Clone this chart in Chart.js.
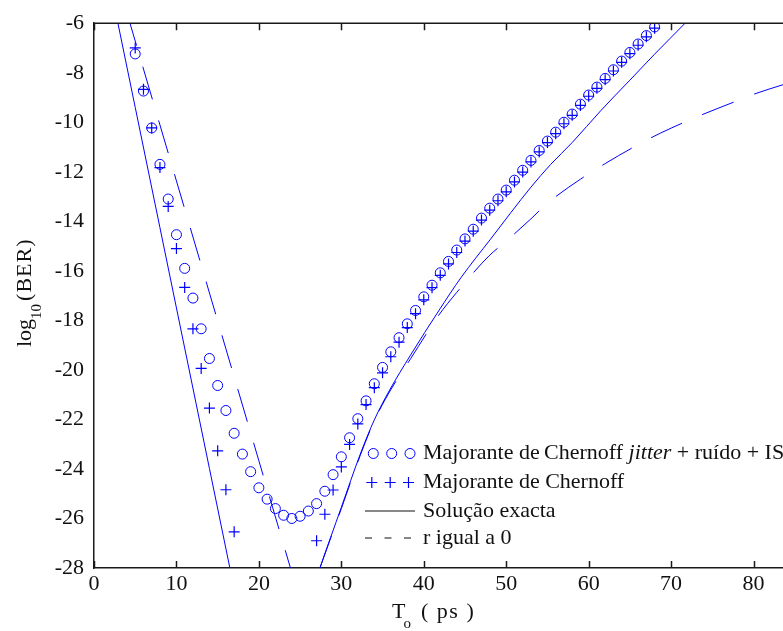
<!DOCTYPE html>
<html>
<head>
<meta charset="utf-8">
<script src="https://cdn.jsdelivr.net/npm/chart.js@4.4.0/dist/chart.umd.min.js"></script>
<style>
html, body { margin: 0; padding: 0; background: #fff; overflow: hidden; }
canvas { display: block; }
</style>
</head>
<body>
<canvas id="berChart" width="860" height="631"></canvas>
<script>
// Axis ticks
const xTicks = [0, 10, 20, 30, 40, 50, 60, 70, 80, 90];
const yTicks = [-28, -26, -24, -22, -20, -18, -16, -14, -12, -10, -8, -6];

// Chernoff bound, jitter + noise + ISI (circles)
const jitterX = [5, 6, 7, 8, 9, 10, 11, 12, 13, 14, 15, 16, 17, 18, 19, 20, 21, 22, 23, 24,
  25, 26, 27, 28, 29, 30, 31, 32, 33, 34, 35, 36, 37, 38, 39, 40, 41, 42, 43, 44,
  45, 46, 47, 48, 49, 50, 51, 52, 53, 54, 55, 56, 57, 58, 59, 60, 61, 62, 63, 64,
  65, 66, 67, 68];
const jitterY = [-7.24, -8.74, -10.23, -11.70, -13.10, -14.54, -15.90, -17.10, -18.34, -19.54,
  -20.63, -21.64, -22.56, -23.40, -24.11, -24.76, -25.22, -25.60, -25.87, -26.00,
  -25.91, -25.70, -25.40, -24.90, -24.23, -23.51, -22.74, -21.97, -21.25, -20.56,
  -19.90, -19.27, -18.70, -18.14, -17.60, -17.05, -16.58, -16.08, -15.62, -15.16,
  -14.71, -14.32, -13.87, -13.47, -13.10, -12.74, -12.34, -11.94, -11.54, -11.14,
  -10.76, -10.40, -10.00, -9.67, -9.27, -8.90, -8.58, -8.23, -7.88, -7.53,
  -7.18, -6.84, -6.50, -6.15];

// Chernoff bound (plus signs)
const chernoffX = [5, 6, 7, 8, 9, 10, 11, 12, 13, 14, 15, 16, 17,
  27, 28, 29, 30, 31, 32, 33, 34, 35, 36, 37, 38, 39, 40, 41, 42, 43, 44,
  45, 46, 47, 48, 49, 50, 51, 52, 53, 54, 55, 56, 57, 58, 59, 60, 61, 62, 63, 64,
  65, 66, 67, 68];
const chernoffY = [-7.00, -8.67, -10.23, -11.83, -13.40, -15.10, -16.67, -18.34, -19.94, -21.54,
  -23.27, -24.84, -26.54,
  -26.90, -25.83, -24.85, -23.92, -23.01, -22.18, -21.40, -20.72, -20.12, -19.47,
  -18.88, -18.29, -17.73, -17.17, -16.68, -16.18, -15.72, -15.26,
  -14.80, -14.40, -13.95, -13.55, -13.17, -12.81, -12.41, -12.01, -11.60, -11.20,
  -10.82, -10.46, -10.06, -9.72, -9.32, -8.95, -8.63, -8.28, -7.93, -7.58,
  -7.23, -6.89, -6.55, -6.20];

// Exact solution (solid), gap where it dips below the axis
const exactX = [2.5, 5, 8, 11, 14, 17, 22, 27, 27.4, 30, 32.3, 34, 35.8, 38.4, 41.8, 44.5,
  48.1, 53, 55.4, 58, 61.5, 65, 68, 71.7, 73];
const exactY = [-5.35, -9.40, -14.26, -19.12, -23.98, -28.84, null, -28.40, -28.00, -25.55,
  -23.40, -22.02, -20.85, -19.40, -17.62, -16.28, -14.72, -12.62, -11.70, -10.82,
  -9.52, -8.30, -7.25, -6.00, -5.55];

// r = 0 (dashed)
const rZeroX = [4, 10, 16, 20, 24.2, 26, 27.4, 30, 32.3, 34, 36, 38.4, 41.8, 44, 47.9, 50,
  53, 55, 59, 62, 65.8, 68.7, 73, 77.8, 80, 83.7, 90];
const rZeroY = [-5.59, -12.37, -19.15, -23.67, -28.42, null, -28.00, -25.60, -23.45, -22.05,
  -20.80, -19.55, -17.80, -16.87, -15.40, -14.80, -13.90, -13.27, -12.30, -11.67,
  -10.94, -10.44, -9.80, -9.16, -8.87, -8.47, -7.80];

const BLUE = '#0000ff';
const INK = '#111';
const AXIS = '#1a1a1a';
const SERIF = '"Liberation Serif", "Times New Roman", serif';

function toPoints(xs, ys) {
    return xs.map((x, i) => ({ x: x, y: ys[i] }));
}

// Draw text pieces one after another, returns the end x
function textRun(ctx, parts, x, y) {
    parts.forEach(([str, font]) => {
        ctx.font = font;
        ctx.fillText(str, x, y);
        x += ctx.measureText(str).width;
    });
    return x;
}

// Legend with mixed italic text, drawn straight onto the canvas
function drawLegend(ctx) {
    const rows = [453.5, 482.5, 511, 538];
    const marks = [373.3, 391.7, 410];
    const textX = 423;
    const roman = '22px ' + SERIF;
    const italic = 'italic 22px ' + SERIF;

    ctx.lineWidth = 1;
    ctx.strokeStyle = BLUE;
    marks.forEach(cx => {
        ctx.beginPath();
        ctx.arc(cx, rows[0], 5, 0, Math.PI * 2);
        ctx.stroke();
    });
    ctx.lineWidth = 1.2;
    ctx.beginPath();
    marks.forEach(cx => {
        ctx.moveTo(cx - 1.5 - 5.5, rows[1]); ctx.lineTo(cx - 1.5 + 5.5, rows[1]);
        ctx.moveTo(cx - 1.5, rows[1] - 5.5); ctx.lineTo(cx - 1.5, rows[1] + 5.5);
    });
    ctx.stroke();

    ctx.strokeStyle = INK;
    ctx.lineWidth = 1;
    ctx.beginPath();
    ctx.moveTo(365, rows[2]); ctx.lineTo(415, rows[2]);
    ctx.stroke();
    ctx.setLineDash([7, 12.5]);
    ctx.beginPath();
    ctx.moveTo(365, rows[3]); ctx.lineTo(415, rows[3]);
    ctx.stroke();
    ctx.setLineDash([]);

    ctx.fillStyle = INK;
    ctx.textAlign = 'left';
    ctx.textBaseline = 'middle';

    textRun(ctx, [
        ['Majorante de', roman],
        ['\u2009Chernoff ', roman],
        ['jitter', italic],
        [' + ruído + ISI', roman]
    ], textX, rows[0]);

    ctx.font = roman;
    ctx.fillText('Majorante de Chernoff', textX, rows[1]);
    ctx.fillText('Solução exacta', textX, rows[2]);
    ctx.fillText('r igual a 0', textX, rows[3]);
}

// Axis titles with subscripts
function drawTitles(ctx) {
    ctx.fillStyle = INK;
    ctx.textAlign = 'left';
    ctx.textBaseline = 'alphabetic';

    // T_o ( ps )
    ctx.font = '22px ' + SERIF;
    ctx.fillText('T', 392, 618);
    let x = 392 + ctx.measureText('T').width - 2;
    ctx.font = '15px ' + SERIF;
    ctx.fillText('o', x, 628);
    ctx.font = '22px ' + SERIF;
    ctx.letterSpacing = '1.5px';
    ctx.fillText('( ps )', 421, 618);
    ctx.letterSpacing = '0px';

    // log_10(BER), reading upwards
    ctx.save();
    ctx.translate(31, 347);
    ctx.rotate(-Math.PI / 2);
    ctx.font = '22px ' + SERIF;
    ctx.fillText('log', 0, 0);
    x = ctx.measureText('log').width;
    ctx.font = '15px ' + SERIF;
    ctx.fillText('10', x, 10);
    x += ctx.measureText('10').width + 3;
    ctx.font = '22px ' + SERIF;
    ctx.letterSpacing = '1px';
    ctx.fillText('(BER)', x, 0);
    ctx.letterSpacing = '0px';
    ctx.restore();
}

// Top frame, inward ticks, legend and titles
const framePlugin = {
    id: 'framePlugin',
    afterDraw(chart) {
        const { ctx, chartArea: a } = chart;
        const xs = chart.scales.x;
        ctx.save();
        ctx.strokeStyle = AXIS;
        ctx.lineWidth = 1.5;
        ctx.beginPath();
        ctx.moveTo(a.left, a.top);
        ctx.lineTo(a.right, a.top);
        xTicks.forEach(v => {
            const px = Math.round(xs.getPixelForValue(v)) + 0.5;
            ctx.moveTo(px, a.bottom);
            ctx.lineTo(px, a.bottom - 7);
            ctx.moveTo(px, a.top);
            ctx.lineTo(px, a.top + 7);
        });
        ctx.stroke();
        drawLegend(ctx);
        drawTitles(ctx);
        ctx.restore();
    }
};

const tickFont = { family: SERIF, size: 22 };

new Chart(document.getElementById('berChart').getContext('2d'), {
    type: 'line',
    data: {
        datasets: [{
            label: 'Majorante de Chernoff jitter + ruído + ISI',
            data: toPoints(jitterX, jitterY),
            showLine: false,
            pointStyle: 'circle',
            pointRadius: 5,
            pointBorderWidth: 1,
            pointBorderColor: BLUE,
            pointBackgroundColor: 'rgba(0,0,0,0)',
            borderColor: BLUE
        }, {
            label: 'Majorante de Chernoff',
            data: toPoints(chernoffX, chernoffY),
            showLine: false,
            pointStyle: 'cross',
            pointRadius: 5.5,
            pointBorderWidth: 1.2,
            pointBorderColor: BLUE,
            borderColor: BLUE
        }, {
            label: 'Solução exacta',
            data: toPoints(exactX, exactY),
            borderColor: BLUE,
            borderWidth: 1,
            pointRadius: 0,
            cubicInterpolationMode: 'monotone',
            fill: false
        }, {
            label: 'r igual a 0',
            data: toPoints(rZeroX, rZeroY),
            borderColor: BLUE,
            borderWidth: 1,
            borderDash: [34, 22],
            pointRadius: 0,
            cubicInterpolationMode: 'monotone',
            fill: false
        }]
    },
    options: {
        responsive: false,
        animation: false,
        devicePixelRatio: 1,
        layout: { padding: { top: 18, right: 24, left: 0, bottom: 0 } },
        plugins: {
            legend: { display: false },
            tooltip: { enabled: false }
        },
        scales: {
            x: {
                type: 'linear',
                min: 0,
                max: 90,
                afterBuildTicks: s => { s.ticks = xTicks.map(v => ({ value: v })); },
                afterFit: s => { s.height = 63; },
                ticks: { font: tickFont, color: INK, padding: 3, maxRotation: 0, autoSkip: false },
                grid: { display: false, drawTicks: false },
                border: { display: true, color: AXIS, width: 1.5 }
            },
            y: {
                type: 'linear',
                min: -28,
                max: -6,
                afterBuildTicks: s => { s.ticks = yTicks.map(v => ({ value: v })); },
                afterFit: s => { s.width = 94; },
                ticks: { font: tickFont, color: INK, padding: 10, autoSkip: false },
                grid: { display: false, drawTicks: false },
                border: { display: true, color: AXIS, width: 1.5 }
            }
        }
    },
    plugins: [framePlugin]
});
</script>
</body>
</html>
